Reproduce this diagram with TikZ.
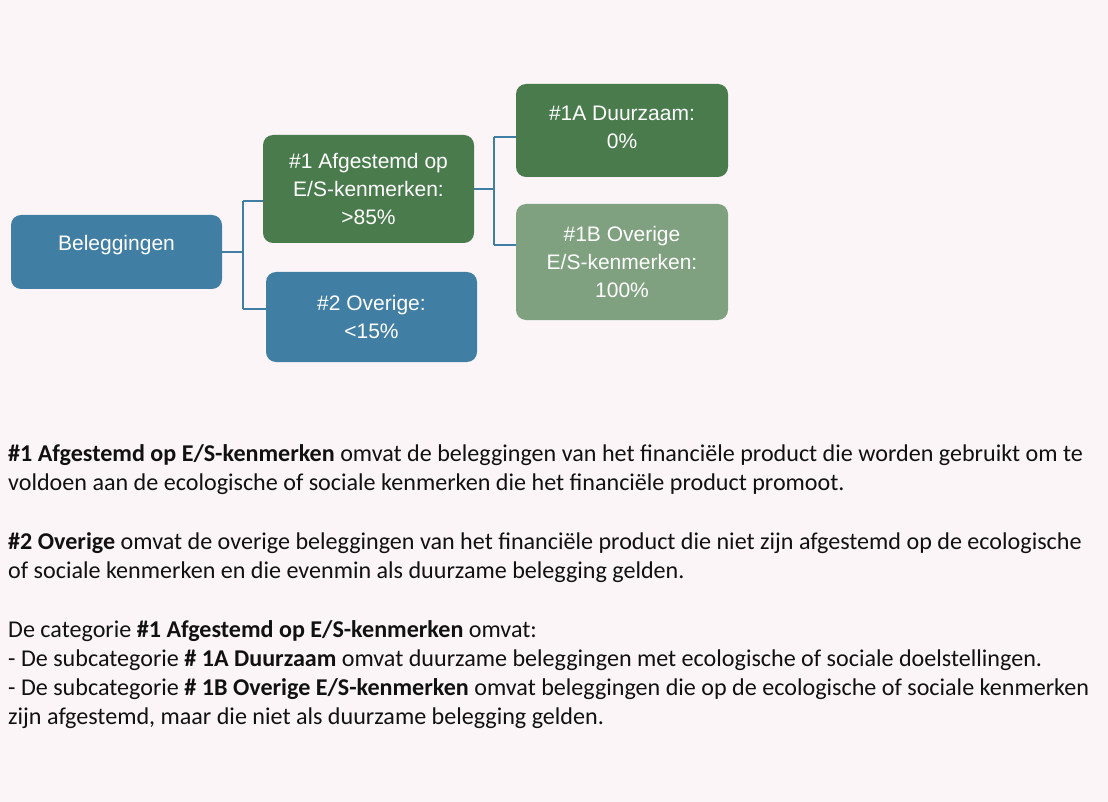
\documentclass[tikz,border=0pt]{standalone}
\usepackage{fontspec}
\setmainfont{Carlito}
\newfontfamily\arialf{Liberation Sans}
\definecolor{bg}{HTML}{FBF5F7}
\definecolor{bblue}{HTML}{417EA3}
\definecolor{dgreen}{HTML}{4A7B4D}
\definecolor{lgreen}{HTML}{7FA180}
\definecolor{txt}{HTML}{111111}
\begin{document}
\begin{tikzpicture}[x=1pt,y=-1pt,
  box/.style={rounded corners=10pt, inner sep=0pt, align=center, text=white,
    font=\arialf\fontsize{21}{28}\selectfont},
  conn/.style={draw=bblue, line width=2.8pt},
  line/.style={anchor=base west, inner sep=0pt, text=txt,
    font=\fontsize{24.1}{29}\selectfont}]
\fill[bg] (0,0) rectangle (1108,802);
\useasboundingbox (0,0) rectangle (1108,802);

\node[box, fill=bblue, minimum width=211pt, minimum height=74pt] (bel) at (116.5,252) {};
\node[box, inner sep=0pt] (belt) at (116.5,245) {Beleggingen};
\node[box, fill=dgreen, minimum width=211pt, minimum height=108pt] (n1) at (368.5,189)
  {\#1 Afgestemd op\\E/S-kenmerken:\\>85\%};
\node[box, fill=bblue, minimum width=211pt, minimum height=90pt] (n2) at (371.5,317)
  {\#2 Overige:\\<15\%};
\node[box, fill=dgreen, minimum width=212pt, minimum height=93pt] (n1a) at (622,130.5) {};
\node[box, inner sep=0pt] (n1at) at (622,127.5) {\#1A Duurzaam:\\0\%};
\node[box, fill=lgreen, minimum width=212pt, minimum height=116pt] (n1b) at (622,262)
  {\#1B Overige\\E/S-kenmerken:\\100\%};

\coordinate (t1) at (243,201);
\coordinate (t2) at (243,309);
\draw[conn] (bel.east) -- (bel.east -| t1);
\draw[conn] (t1) -- (t2);
\draw[conn] (t1) -- (t1 -| n1.west);
\draw[conn] (t2) -- (t2 -| n2.west);

\coordinate (t3) at (494,137);
\coordinate (t4) at (494,245);
\draw[conn] (n1.east) -- (n1.east -| t3);
\draw[conn] (t3) -- (t4);
\draw[conn] (t3) -- (t3 -| n1a.west);
\draw[conn] (t4) -- (t4 -| n1b.west);

\node[line] (l1) at (8,461) {\textbf{\#1 Afgestemd op E/S-kenmerken} omvat de beleggingen van het financiële product die worden gebruikt om te};
\node[line] (l2) at (8,490) {voldoen aan de ecologische of sociale kenmerken die het financiële product promoot.};
\node[line] (l3) at (8,549) {\textbf{\#2 Overige} omvat de overige beleggingen van het financiële product die niet zijn afgestemd op de ecologische};
\node[line] (l4) at (8,578) {of sociale kenmerken en die evenmin als duurzame belegging gelden.};
\node[line] (l5) at (8,637) {De categorie \textbf{\#1 Afgestemd op E/S-kenmerken} omvat:};
\node[line] (l6) at (8,666) {- De subcategorie \textbf{\# 1A Duurzaam} omvat duurzame beleggingen met ecologische of sociale doelstellingen.};
\node[line] (l7) at (8,695) {- De subcategorie \textbf{\# 1B Overige E/S-kenmerken} omvat beleggingen die op de ecologische of sociale kenmerken};
\node[line] (l8) at (8,724) {zijn afgestemd, maar die niet als duurzame belegging gelden.};
\end{tikzpicture}
\end{document}
